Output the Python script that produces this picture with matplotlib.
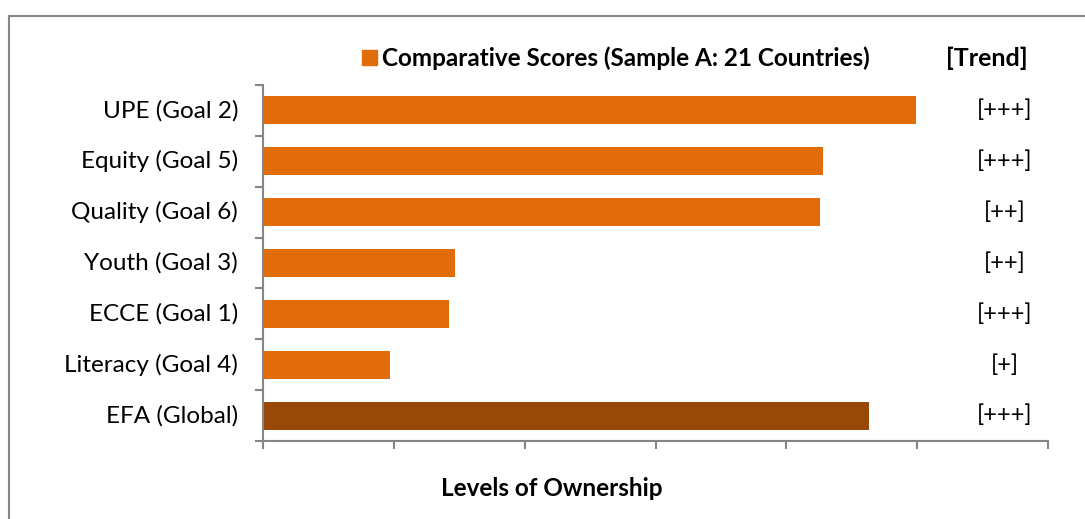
import matplotlib.pyplot as plt
from matplotlib.patches import Rectangle, Patch

# data, top to bottom as shown
labels = ['UPE (Goal 2)', 'Equity (Goal 5)', 'Quality (Goal 6)', 'Youth (Goal 3)',
          'ECCE (Goal 1)', 'Literacy (Goal 4)', 'EFA (Global)']
scores = [4.99, 4.28, 4.26, 1.47, 1.42, 0.97, 4.63]
trends = ['[+++]', '[+++]', '[++]', '[++]', '[+++]', '[+]', '[+++]']

orange = '#E36C0A'
dark = '#984807'
grey = '#868686'

plt.rcParams['font.family'] = ['Lato', 'DejaVu Sans']

fig = plt.figure(figsize=(10.85, 5.19), dpi=100)
ax = fig.add_axes([263 / 1085, 1 - 441 / 519, (1048 - 263) / 1085, (441 - 85) / 519])

ypos = list(range(len(labels)))[::-1]
colors = [orange] * (len(labels) - 1) + [dark]
ax.barh(ypos, scores, height=0.55, color=colors)

ax.set_xlim(0, 6)
ax.set_ylim(-0.5, len(labels) - 0.5)
ax.set_xticks(range(7))
ax.set_xticklabels([])
ax.set_yticks([y + 0.5 for y in range(-1, len(labels))])
ax.set_yticklabels([])
for y, lab in zip(ypos, labels):
    ax.text(-0.19, y, lab, ha='right', va='center', fontsize=17.5, color='black')

ax.tick_params(axis='both', direction='out', length=6, width=1.5, color=grey)
for s in ['top', 'right']:
    ax.spines[s].set_visible(False)
for s in ['left', 'bottom']:
    ax.spines[s].set_color(grey)
    ax.spines[s].set_linewidth(1.5)

# trend column
for y, t in zip(ypos, trends):
    ax.text(5.67, y, t, ha='center', va='center', fontsize=17, color='black')

# legend
leg = ax.legend(handles=[Patch(color=orange, label='Comparative Scores (Sample A: 21 Countries)')],
                loc='center left', bbox_to_anchor=(350 / 1085, 1 - 58 / 519),
                bbox_transform=fig.transFigure, frameon=False, handlelength=0.6,
                handleheight=0.6, handletextpad=0.2, borderpad=0,
                prop={'weight': 'bold', 'size': 17.5})
fig.text(987 / 1085, 1 - 58 / 519, '[Trend]', ha='center', va='center',
         fontsize=18, fontweight='bold')

fig.text(552 / 1085, 1 - 489 / 519, 'Levels of Ownership', ha='center', va='center',
         fontsize=17.5, fontweight='bold')

# outer chart frame
fig.patches.append(Rectangle((9 / 1085, -0.1), 1.2, 1 - 16 / 519 + 0.1,
                             transform=fig.transFigure, fill=False,
                             edgecolor=grey, linewidth=1.5))

fig.savefig('out.png', dpi=100)
